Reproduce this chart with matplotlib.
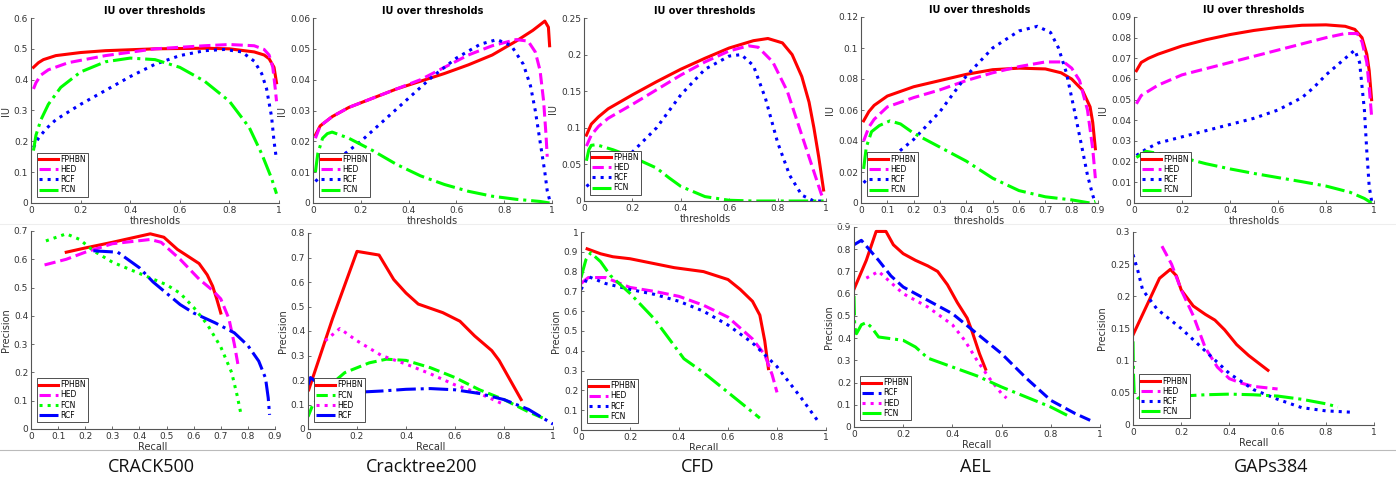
import numpy as np
import matplotlib.pyplot as plt
from matplotlib.ticker import FormatStrFormatter

# ---- top row: IU over thresholds ----
# CRACK500
c500_t_fphbn = [0.01, 0.03, 0.05, 0.1, 0.2, 0.3, 0.5, 0.7, 0.8, 0.9, 0.94, 0.96, 0.98, 0.99]
c500_iu_fphbn = [0.44, 0.455, 0.465, 0.478, 0.488, 0.494, 0.5, 0.502, 0.5, 0.49, 0.48, 0.468, 0.44, 0.39]
c500_t_hed = [0.01, 0.02, 0.04, 0.07, 0.15, 0.3, 0.5, 0.7, 0.8, 0.9, 0.94, 0.96, 0.975, 0.985, 0.99]
c500_iu_hed = [0.37, 0.39, 0.415, 0.432, 0.455, 0.478, 0.5, 0.51, 0.514, 0.51, 0.498, 0.48, 0.44, 0.37, 0.33]
c500_t_rcf = [0.01, 0.03, 0.06, 0.1, 0.2, 0.3, 0.4, 0.5, 0.6, 0.7, 0.78, 0.85, 0.9, 0.93, 0.95, 0.97, 0.98, 0.99]
c500_iu_rcf = [0.18, 0.21, 0.24, 0.27, 0.32, 0.365, 0.41, 0.45, 0.478, 0.494, 0.498, 0.49, 0.46, 0.42, 0.37, 0.28, 0.2, 0.14]
c500_t_fcn = [0.01, 0.02, 0.04, 0.07, 0.12, 0.2, 0.3, 0.4, 0.5, 0.6, 0.7, 0.8, 0.88, 0.93, 0.97, 0.99]
c500_iu_fcn = [0.17, 0.22, 0.27, 0.32, 0.375, 0.425, 0.458, 0.47, 0.465, 0.44, 0.395, 0.33, 0.245, 0.16, 0.08, 0.03]

# Cracktree200
ct_t_fphbn = [0.01, 0.03, 0.08, 0.15, 0.25, 0.35, 0.45, 0.55, 0.65, 0.75, 0.85, 0.92, 0.97, 0.985, 0.99]
ct_iu_fphbn = [0.022, 0.025, 0.028, 0.031, 0.034, 0.037, 0.0395, 0.042, 0.0448, 0.048, 0.0525, 0.056, 0.059, 0.057, 0.051]
ct_t_hed = [0.01, 0.03, 0.08, 0.15, 0.25, 0.35, 0.45, 0.55, 0.65, 0.75, 0.85, 0.9, 0.93, 0.95, 0.965, 0.975, 0.98]
ct_iu_hed = [0.021, 0.025, 0.028, 0.031, 0.034, 0.037, 0.040, 0.044, 0.048, 0.051, 0.053, 0.0525, 0.049, 0.043, 0.033, 0.022, 0.015]
ct_t_rcf = [0.01, 0.05, 0.1, 0.2, 0.3, 0.4, 0.5, 0.6, 0.7, 0.77, 0.83, 0.88, 0.91, 0.93, 0.95, 0.97, 0.98, 0.99]
ct_iu_rcf = [0.007, 0.01, 0.014, 0.02, 0.027, 0.034, 0.041, 0.047, 0.0515, 0.053, 0.051, 0.045, 0.038, 0.03, 0.02, 0.01, 0.004, 0.001]
ct_t_fcn = [0.01, 0.02, 0.04, 0.06, 0.08, 0.15, 0.25, 0.35, 0.45, 0.55, 0.65, 0.75, 0.85, 0.95, 0.99]
ct_iu_fcn = [0.01, 0.016, 0.021, 0.0225, 0.023, 0.021, 0.017, 0.0125, 0.0088, 0.006, 0.0038, 0.0022, 0.0012, 0.0005, 0.0]

# CFD
cfd_t_fphbn = [0.01, 0.03, 0.06, 0.1, 0.2, 0.3, 0.4, 0.5, 0.6, 0.7, 0.76, 0.82, 0.86, 0.9, 0.93, 0.95, 0.97, 0.99]
cfd_iu_fphbn = [0.09, 0.105, 0.115, 0.126, 0.145, 0.163, 0.18, 0.195, 0.209, 0.219, 0.222, 0.216, 0.2, 0.17, 0.135, 0.1, 0.06, 0.015]
cfd_t_hed = [0.01, 0.03, 0.06, 0.1, 0.2, 0.3, 0.4, 0.5, 0.6, 0.68, 0.72, 0.78, 0.84, 0.9, 0.95, 0.98, 0.99]
cfd_iu_hed = [0.075, 0.09, 0.102, 0.113, 0.132, 0.152, 0.172, 0.19, 0.205, 0.212, 0.21, 0.19, 0.15, 0.09, 0.04, 0.01, 0.002]
cfd_t_rcf = [0.01, 0.05, 0.1, 0.15, 0.2, 0.3, 0.4, 0.5, 0.6, 0.65, 0.7, 0.75, 0.8, 0.85, 0.9, 0.95, 0.99]
cfd_iu_rcf = [0.02, 0.03, 0.045, 0.055, 0.067, 0.1, 0.145, 0.18, 0.198, 0.2, 0.185, 0.14, 0.08, 0.035, 0.008, 0.0, 0.0]
cfd_t_fcn = [0.01, 0.02, 0.03, 0.05, 0.12, 0.2, 0.3, 0.35, 0.4, 0.5, 0.6, 0.7, 0.8, 0.9, 0.99]
cfd_iu_fcn = [0.055, 0.07, 0.076, 0.077, 0.07, 0.06, 0.045, 0.032, 0.02, 0.006, 0.001, 0.0, 0.0, 0.0, 0.0]

# AEL
ael_t_fphbn = [0.01, 0.03, 0.05, 0.1, 0.2, 0.3, 0.4, 0.5, 0.6, 0.7, 0.76, 0.8, 0.84, 0.87, 0.88, 0.89]
ael_iu_fphbn = [0.053, 0.059, 0.063, 0.069, 0.075, 0.079, 0.083, 0.086, 0.087, 0.0865, 0.084, 0.08, 0.073, 0.062, 0.052, 0.035]
ael_t_hed = [0.01, 0.03, 0.05, 0.1, 0.2, 0.3, 0.4, 0.5, 0.6, 0.7, 0.77, 0.8, 0.83, 0.86, 0.88, 0.89]
ael_iu_hed = [0.04, 0.049, 0.054, 0.062, 0.068, 0.073, 0.079, 0.084, 0.088, 0.091, 0.091, 0.087, 0.079, 0.06, 0.035, 0.016]
ael_t_rcf = [0.01, 0.05, 0.1, 0.2, 0.3, 0.4, 0.5, 0.6, 0.67, 0.72, 0.75, 0.78, 0.81, 0.84, 0.86, 0.88, 0.89]
ael_iu_rcf = [0.013, 0.02, 0.027, 0.041, 0.059, 0.082, 0.1, 0.111, 0.114, 0.11, 0.1, 0.084, 0.06, 0.035, 0.018, 0.005, 0.0]
ael_t_fcn = [0.01, 0.02, 0.04, 0.07, 0.11, 0.15, 0.2, 0.3, 0.4, 0.5, 0.6, 0.7, 0.8, 0.87, 0.89]
ael_iu_fcn = [0.022, 0.036, 0.046, 0.05, 0.053, 0.051, 0.045, 0.036, 0.027, 0.016, 0.008, 0.004, 0.002, 0.0, 0.001]

# GAPs384
gap_t_fphbn = [0.01, 0.03, 0.06, 0.1, 0.2, 0.3, 0.4, 0.5, 0.6, 0.7, 0.8, 0.88, 0.92, 0.95, 0.97, 0.98, 0.99]
gap_iu_fphbn = [0.064, 0.068, 0.07, 0.072, 0.076, 0.079, 0.0815, 0.0835, 0.085, 0.086, 0.0862, 0.0855, 0.084, 0.08, 0.072, 0.064, 0.05]
gap_t_hed = [0.01, 0.03, 0.1, 0.2, 0.3, 0.4, 0.5, 0.6, 0.7, 0.8, 0.88, 0.93, 0.95, 0.97, 0.98, 0.99]
gap_iu_hed = [0.048, 0.052, 0.057, 0.062, 0.065, 0.068, 0.071, 0.074, 0.077, 0.08, 0.082, 0.082, 0.078, 0.068, 0.056, 0.042]
gap_t_rcf = [0.01, 0.05, 0.1, 0.2, 0.3, 0.4, 0.5, 0.6, 0.7, 0.75, 0.8, 0.85, 0.9, 0.92, 0.94, 0.96, 0.97, 0.98, 0.99]
gap_iu_rcf = [0.023, 0.026, 0.029, 0.032, 0.035, 0.038, 0.041, 0.045, 0.051, 0.056, 0.062, 0.067, 0.072, 0.074, 0.068, 0.045, 0.025, 0.008, 0.001]
gap_t_fcn = [0.01, 0.05, 0.1, 0.2, 0.3, 0.4, 0.5, 0.6, 0.7, 0.8, 0.9, 0.96, 0.99]
gap_iu_fcn = [0.022, 0.025, 0.024, 0.022, 0.019, 0.0165, 0.0143, 0.0123, 0.0103, 0.0082, 0.0052, 0.0022, 0.0]

# ---- bottom row: precision / recall ----
c500_r_fphbn = [0.13, 0.2, 0.3, 0.44, 0.49, 0.54, 0.58, 0.62, 0.65, 0.67, 0.685, 0.7]
c500_p_fphbn = [0.625, 0.64, 0.66, 0.69, 0.678, 0.635, 0.61, 0.585, 0.545, 0.505, 0.46, 0.41]
c500_r_hed = [0.05, 0.13, 0.2, 0.3, 0.44, 0.48, 0.55, 0.62, 0.67, 0.7, 0.73, 0.75, 0.763]
c500_p_hed = [0.58, 0.6, 0.625, 0.655, 0.67, 0.66, 0.6, 0.53, 0.49, 0.46, 0.39, 0.3, 0.23]
c500_r_fcn = [0.055, 0.13, 0.18, 0.23, 0.3, 0.4, 0.5, 0.55, 0.6, 0.65, 0.7, 0.74, 0.76, 0.775]
c500_p_fcn = [0.665, 0.69, 0.67, 0.63, 0.59, 0.55, 0.51, 0.48, 0.43, 0.37, 0.29, 0.2, 0.12, 0.05]
c500_r_rcf = [0.23, 0.32, 0.4, 0.45, 0.5, 0.55, 0.6, 0.68, 0.75, 0.8, 0.84, 0.865, 0.875, 0.88]
c500_p_rcf = [0.63, 0.625, 0.57, 0.52, 0.48, 0.44, 0.41, 0.375, 0.34, 0.295, 0.24, 0.18, 0.11, 0.05]

ct_r_fphbn = [0.003, 0.1, 0.2, 0.29, 0.35, 0.4, 0.45, 0.55, 0.62, 0.68, 0.75, 0.78, 0.87]
ct_p_fphbn = [0.16, 0.45, 0.725, 0.71, 0.61, 0.555, 0.51, 0.475, 0.44, 0.38, 0.32, 0.28, 0.12]
ct_r_fcn = [0.0, 0.02, 0.08, 0.15, 0.25, 0.32, 0.4, 0.5, 0.6, 0.7, 0.8, 0.9, 0.97]
ct_p_fcn = [0.05, 0.1, 0.17, 0.23, 0.27, 0.285, 0.28, 0.25, 0.21, 0.16, 0.12, 0.07, 0.04]
ct_r_hed = [0.07, 0.13, 0.2, 0.3, 0.4, 0.5, 0.6, 0.7, 0.8]
ct_p_hed = [0.36, 0.41, 0.36, 0.3, 0.265, 0.225, 0.18, 0.145, 0.1]
ct_r_rcf = [0.0, 0.01, 0.05, 0.1, 0.2, 0.3, 0.4, 0.5, 0.6, 0.7, 0.8, 0.9, 1.0]
ct_p_rcf = [0.18, 0.21, 0.18, 0.16, 0.15, 0.155, 0.162, 0.165, 0.16, 0.145, 0.12, 0.08, 0.02]

cfd_r_fphbn = [0.025, 0.08, 0.13, 0.2, 0.3, 0.38, 0.5, 0.6, 0.65, 0.7, 0.73, 0.75, 0.765]
cfd_p_fphbn = [0.915, 0.89, 0.875, 0.865, 0.84, 0.82, 0.8, 0.76, 0.71, 0.65, 0.58, 0.45, 0.31]
cfd_r_hed = [0.0, 0.03, 0.1, 0.2, 0.3, 0.4, 0.5, 0.6, 0.7, 0.75, 0.78, 0.8]
cfd_p_hed = [0.74, 0.77, 0.77, 0.72, 0.7, 0.675, 0.63, 0.57, 0.46, 0.38, 0.28, 0.19]
cfd_r_rcf = [0.0, 0.03, 0.1, 0.2, 0.3, 0.4, 0.5, 0.6, 0.7, 0.8, 0.9, 0.97]
cfd_p_rcf = [0.71, 0.775, 0.74, 0.71, 0.685, 0.65, 0.6, 0.53, 0.44, 0.32, 0.16, 0.04]
cfd_r_fcn = [0.0, 0.02, 0.04, 0.08, 0.12, 0.2, 0.3, 0.36, 0.42, 0.5, 0.6, 0.73]
cfd_p_fcn = [0.77, 0.86, 0.895, 0.85, 0.78, 0.69, 0.56, 0.46, 0.36, 0.29, 0.19, 0.06]

ael_r_fphbn = [0.0, 0.05, 0.09, 0.13, 0.16, 0.2, 0.25, 0.3, 0.34, 0.38, 0.42, 0.46, 0.48, 0.51, 0.535]
ael_p_fphbn = [0.62, 0.75, 0.88, 0.88, 0.82, 0.78, 0.75, 0.725, 0.7, 0.64, 0.56, 0.49, 0.43, 0.33, 0.26]
ael_r_rcf = [0.0, 0.03, 0.1, 0.15, 0.2, 0.3, 0.4, 0.5, 0.6, 0.7, 0.8, 0.9, 0.97]
ael_p_rcf = [0.82, 0.84, 0.75, 0.68, 0.63, 0.57, 0.51, 0.42, 0.33, 0.22, 0.12, 0.06, 0.025]
ael_r_hed = [0.05, 0.1, 0.15, 0.2, 0.3, 0.4, 0.45, 0.5, 0.55, 0.6, 0.62]
ael_p_hed = [0.67, 0.7, 0.65, 0.6, 0.54, 0.46, 0.39, 0.3, 0.22, 0.15, 0.13]
ael_r_fcn = [0.0, 0.003, 0.01, 0.03, 0.05, 0.07, 0.1, 0.2, 0.25, 0.3, 0.4, 0.5, 0.6, 0.7, 0.8, 0.88]
ael_p_fcn = [0.59, 0.45, 0.42, 0.46, 0.47, 0.45, 0.405, 0.39, 0.36, 0.31, 0.27, 0.23, 0.18, 0.135, 0.09, 0.045]

gap_r_fphbn = [0.0, 0.05, 0.11, 0.155, 0.18, 0.2, 0.25, 0.3, 0.34, 0.38, 0.43, 0.48, 0.56]
gap_p_fphbn = [0.14, 0.18, 0.228, 0.242, 0.232, 0.21, 0.185, 0.172, 0.163, 0.148, 0.125, 0.108, 0.085]
gap_r_hed = [0.12, 0.16, 0.2, 0.25, 0.3, 0.35, 0.4, 0.45, 0.5, 0.6]
gap_p_hed = [0.278, 0.25, 0.21, 0.17, 0.12, 0.09, 0.072, 0.065, 0.06, 0.056]
gap_r_rcf = [0.0, 0.02, 0.04, 0.1, 0.2, 0.3, 0.4, 0.5, 0.6, 0.7, 0.8, 0.9]
gap_p_rcf = [0.265, 0.24, 0.21, 0.18, 0.15, 0.115, 0.08, 0.055, 0.04, 0.027, 0.022, 0.02]
gap_r_fcn = [0.0, 0.002, 0.005, 0.02, 0.05, 0.1, 0.2, 0.3, 0.4, 0.5, 0.6, 0.7, 0.8, 0.85]
gap_p_fcn = [0.13, 0.08, 0.05, 0.042, 0.04, 0.043, 0.045, 0.047, 0.048, 0.047, 0.045, 0.04, 0.033, 0.028]

datasets = ['CRACK500', 'Cracktree200', 'CFD', 'AEL', 'GAPs384']

RED, MAG, BLU, GRN = '#ff0000', '#ff00ff', '#0000ff', '#00ff00'
LW = 2.2

W, H = 1396, 483
fig = plt.figure(figsize=(W / 100, H / 100), dpi=100)


def box(x0, x1, y0, y1):
    # pixel box -> figure fraction
    return [x0 / W, 1 - y1 / H, (x1 - x0) / W, (y1 - y0) / H]


def style(ax, xlim, xticks, ylim, yticks, xlabel, ylabel, title=None):
    ax.set_xlim(xlim)
    ax.set_ylim(ylim)
    ax.set_xticks(xticks)
    ax.set_yticks(yticks)
    ax.xaxis.set_major_formatter(FormatStrFormatter('%g'))
    ax.yaxis.set_major_formatter(FormatStrFormatter('%g'))
    for s in ['top', 'right']:
        ax.spines[s].set_visible(False)
    for s in ['left', 'bottom']:
        ax.spines[s].set_color('#555555')
        ax.spines[s].set_linewidth(0.8)
    ax.tick_params(direction='in', length=2.5, width=0.6, colors='#555555',
                   labelsize=6.5, labelcolor='#333333', pad=2)
    ax.set_xlabel(xlabel, fontsize=7, color='#333333', labelpad=1)
    ax.set_ylabel(ylabel, fontsize=7, color='#333333', labelpad=2)
    if title:
        ax.set_title(title, fontsize=7, fontweight='bold', pad=3)
    leg = ax.legend(loc='lower left', bbox_to_anchor=(0.025, 0.035), fontsize=5.5,
                    fancybox=False, edgecolor='#333333', framealpha=1,
                    handlelength=2.4, handletextpad=0.3, borderpad=0.3,
                    labelspacing=0.15, borderaxespad=0)
    leg.get_frame().set_linewidth(0.6)


# axes positions (pixels)
top_boxes = [(31, 279, 18, 203), (313, 552, 18, 203), (584, 826, 18, 201),
             (861, 1098, 17, 203), (1134, 1374, 17, 203)]
bot_boxes = [(31, 275, 231, 429), (308, 553, 233, 429), (581, 826, 232, 430),
             (854, 1100, 227, 427), (1133, 1374, 232, 425)]

# ---------- top row ----------
ax = fig.add_axes(box(*top_boxes[0]))
ax.plot(c500_t_fphbn, c500_iu_fphbn, '-', color=RED, lw=LW, label='FPHBN')
ax.plot(c500_t_hed, c500_iu_hed, '--', color=MAG, lw=LW, label='HED')
ax.plot(c500_t_rcf, c500_iu_rcf, ':', color=BLU, lw=LW, label='RCF')
ax.plot(c500_t_fcn, c500_iu_fcn, '-.', color=GRN, lw=LW, label='FCN')
style(ax, (0, 1), np.arange(0, 1.01, 0.2), (0, 0.6), np.arange(0, 0.61, 0.1),
      'thresholds', 'IU', 'IU over thresholds')

ax = fig.add_axes(box(*top_boxes[1]))
ax.plot(ct_t_fphbn, ct_iu_fphbn, '-', color=RED, lw=LW, label='FPHBN')
ax.plot(ct_t_hed, ct_iu_hed, '--', color=MAG, lw=LW, label='HED')
ax.plot(ct_t_rcf, ct_iu_rcf, ':', color=BLU, lw=LW, label='RCF')
ax.plot(ct_t_fcn, ct_iu_fcn, '-.', color=GRN, lw=LW, label='FCN')
style(ax, (0, 1), np.arange(0, 1.01, 0.2), (0, 0.06), np.arange(0, 0.061, 0.01),
      'thresholds', 'IU', 'IU over thresholds')

ax = fig.add_axes(box(*top_boxes[2]))
ax.plot(cfd_t_fphbn, cfd_iu_fphbn, '-', color=RED, lw=LW, label='FPHBN')
ax.plot(cfd_t_hed, cfd_iu_hed, '--', color=MAG, lw=LW, label='HED')
ax.plot(cfd_t_rcf, cfd_iu_rcf, ':', color=BLU, lw=LW, label='RCF')
ax.plot(cfd_t_fcn, cfd_iu_fcn, '-.', color=GRN, lw=LW, label='FCN')
style(ax, (0, 1), np.arange(0, 1.01, 0.2), (0, 0.25), np.arange(0, 0.251, 0.05),
      'thresholds', 'IU', 'IU over thresholds')

ax = fig.add_axes(box(*top_boxes[3]))
ax.plot(ael_t_fphbn, ael_iu_fphbn, '-', color=RED, lw=LW, label='FPHBN')
ax.plot(ael_t_hed, ael_iu_hed, '--', color=MAG, lw=LW, label='HED')
ax.plot(ael_t_rcf, ael_iu_rcf, ':', color=BLU, lw=LW, label='RCF')
ax.plot(ael_t_fcn, ael_iu_fcn, '-.', color=GRN, lw=LW, label='FCN')
style(ax, (0, 0.9), np.arange(0, 0.91, 0.1), (0, 0.12), np.arange(0, 0.121, 0.02),
      'thresholds', 'IU', 'IU over thresholds')

ax = fig.add_axes(box(*top_boxes[4]))
ax.plot(gap_t_fphbn, gap_iu_fphbn, '-', color=RED, lw=LW, label='FPHBN')
ax.plot(gap_t_hed, gap_iu_hed, '--', color=MAG, lw=LW, label='HED')
ax.plot(gap_t_rcf, gap_iu_rcf, ':', color=BLU, lw=LW, label='RCF')
ax.plot(gap_t_fcn, gap_iu_fcn, '-.', color=GRN, lw=LW, label='FCN')
style(ax, (0, 1), np.arange(0, 1.01, 0.2), (0, 0.09), np.arange(0, 0.091, 0.01),
      'thresholds', 'IU', 'IU over thresholds')

# ---------- bottom row ----------
ax = fig.add_axes(box(*bot_boxes[0]))
ax.plot(c500_r_fphbn, c500_p_fphbn, '-', color=RED, lw=LW, label='FPHBN')
ax.plot(c500_r_hed, c500_p_hed, '--', color=MAG, lw=LW, label='HED')
ax.plot(c500_r_fcn, c500_p_fcn, ':', color=GRN, lw=LW, label='FCN')
ax.plot(c500_r_rcf, c500_p_rcf, '-.', color=BLU, lw=LW, label='RCF')
style(ax, (0, 0.9), np.arange(0, 0.91, 0.1), (0, 0.7), np.arange(0, 0.71, 0.1),
      'Recall', 'Precision')

ax = fig.add_axes(box(*bot_boxes[1]))
ax.plot(ct_r_fphbn, ct_p_fphbn, '-', color=RED, lw=LW, label='FPHBN')
ax.plot(ct_r_fcn, ct_p_fcn, '--', color=GRN, lw=LW, label='FCN')
ax.plot(ct_r_hed, ct_p_hed, ':', color=MAG, lw=LW, label='HED')
ax.plot(ct_r_rcf, ct_p_rcf, '-.', color=BLU, lw=LW, label='RCF')
style(ax, (0, 1), np.arange(0, 1.01, 0.2), (0, 0.8), np.arange(0, 0.81, 0.1),
      'Recall', 'Precision')

ax = fig.add_axes(box(*bot_boxes[2]))
ax.plot(cfd_r_fphbn, cfd_p_fphbn, '-', color=RED, lw=LW, label='FPHBN')
ax.plot(cfd_r_hed, cfd_p_hed, '--', color=MAG, lw=LW, label='HED')
ax.plot(cfd_r_rcf, cfd_p_rcf, ':', color=BLU, lw=LW, label='RCF')
ax.plot(cfd_r_fcn, cfd_p_fcn, '-.', color=GRN, lw=LW, label='FCN')
style(ax, (0, 1), np.arange(0, 1.01, 0.2), (0, 1), np.arange(0, 1.01, 0.1),
      'Recall', 'Precision')

ax = fig.add_axes(box(*bot_boxes[3]))
ax.plot(ael_r_fphbn, ael_p_fphbn, '-', color=RED, lw=LW, label='FPHBN')
ax.plot(ael_r_rcf, ael_p_rcf, '--', color=BLU, lw=LW, label='RCF')
ax.plot(ael_r_hed, ael_p_hed, ':', color=MAG, lw=LW, label='HED')
ax.plot(ael_r_fcn, ael_p_fcn, '-.', color=GRN, lw=LW, label='FCN')
style(ax, (0, 1), np.arange(0, 1.01, 0.2), (0, 0.9), np.arange(0, 0.91, 0.1),
      'Recall', 'Precision')

ax = fig.add_axes(box(*bot_boxes[4]))
ax.plot(gap_r_fphbn, gap_p_fphbn, '-', color=RED, lw=LW, label='FPHBN')
ax.plot(gap_r_hed, gap_p_hed, '--', color=MAG, lw=LW, label='HED')
ax.plot(gap_r_rcf, gap_p_rcf, ':', color=BLU, lw=LW, label='RCF')
ax.plot(gap_r_fcn, gap_p_fcn, '-.', color=GRN, lw=LW, label='FCN')
style(ax, (0, 1), np.arange(0, 1.01, 0.2), (0, 0.3), np.arange(0, 0.31, 0.05),
      'Recall', 'Precision')

# separator lines and dataset names
fig.add_artist(plt.Line2D([0, 1], [1 - 450 / H] * 2, color='#bbbbbb', lw=0.8))
fig.add_artist(plt.Line2D([0, 1], [1 - 224 / H] * 2, color='#eeeeee', lw=0.8))
name_x = [151, 422, 698, 975, 1271]
for nx, name in zip(name_x, datasets):
    fig.text(nx / W, 1 - 467 / H, name, ha='center', va='center', fontsize=13,
             family=['Liberation Sans Narrow', 'DejaVu Sans Condensed', 'Open Sans'],
             color='#111111')

fig.savefig('out.png', dpi=100)
